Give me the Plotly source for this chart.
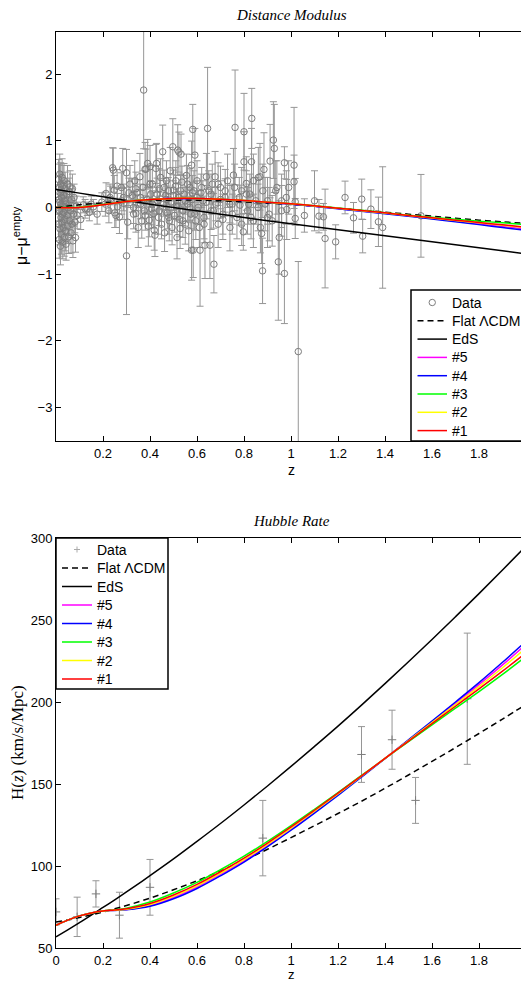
import plotly.graph_objects as go

# ---------------- Data: distance modulus residuals ----------------
z_lowz = [0.011,0.012,0.013,0.014,0.015,0.015,0.016,0.017,0.017,0.018,0.019,0.020,0.021,0.021,0.022,0.023,0.024,0.025,0.026,0.027,
          0.028,0.029,0.030,0.031,0.032,0.033,0.034,0.035,0.036,0.038,0.039,0.040,0.042,0.043,0.045,0.047,0.049,0.050,0.052,0.054,
          0.056,0.058,0.060,0.062,0.064,0.066,0.068,0.070,0.072,0.075,0.077,0.080,0.083,0.086,0.090]
mu_lowz = [0.42,-0.25,0.12,-0.48,0.30,-0.05,0.50,-0.32,0.08,0.22,-0.58,0.35,-0.15,0.05,0.27,-0.40,0.15,-0.22,0.45,-0.10,
           0.02,-0.52,0.33,-0.30,0.18,-0.08,0.40,-0.45,0.10,-0.18,0.28,-0.35,0.05,-0.55,0.20,-0.12,0.35,-0.28,0.00,-0.44,
           0.24,-0.20,0.31,-0.05,-0.38,0.12,-0.25,0.28,-0.50,-0.10,0.15,-0.22,-0.45,0.02,-0.12]
err_lowz = [0.30,0.25,0.22,0.28,0.35,0.20,0.30,0.24,0.18,0.26,0.28,0.32,0.20,0.15,0.25,0.30,0.22,0.18,0.28,0.20,
            0.16,0.25,0.30,0.22,0.20,0.18,0.26,0.28,0.15,0.22,0.25,0.30,0.18,0.24,0.20,0.22,0.28,0.26,0.15,0.25,
            0.20,0.22,0.24,0.18,0.30,0.16,0.20,0.22,0.25,0.18,0.20,0.16,0.22,0.15,0.20]

z_near = [0.105,0.116,0.124,0.133,0.142,0.150,0.159,0.175,0.195,0.213,
          0.225,0.232,0.241,0.244,0.248,0.255,0.262,0.27,0.278,0.284,0.287,0.29,0.30,0.30,0.305,0.315]
mu_near = [-0.18,0.04,-0.02,-0.02,-0.07,0.05,0.01,-0.10,0.08,0.21,
           -0.05,0.12,0.595,0.56,0.26,-0.12,0.01,-0.14,0.30,0.585,0.15,0.06,-0.725,0.52,-0.22,0.35]
err_near = [0.15,0.12,0.14,0.10,0.13,0.12,0.11,0.15,0.14,0.16,
            0.18,0.20,0.30,0.33,0.22,0.18,0.20,0.25,0.22,0.30,0.20,0.24,0.88,0.35,0.25,0.28]

z_mid = [0.325,0.33,0.335,0.34,0.345,0.35,0.357,0.36,0.365,0.37,0.373,0.376,0.379,0.383,0.386,0.39,0.393,0.397,0.40,0.403,
         0.407,0.41,0.414,0.418,0.421,0.425,0.428,0.432,0.436,0.44,0.445,0.449,0.454,0.458,0.462,0.466,0.47,0.474,0.478,0.482,
         0.486,0.49,0.494,0.497,0.50,0.504,0.508,0.512,0.515,0.518,0.521,0.523,0.526,0.528,0.532,0.536,0.54,0.545,0.55,0.555,
         0.56,0.565,0.57,0.574,0.577,0.577,0.58,0.582,0.584,0.587,0.591,0.595,0.60,0.605,0.61,0.613,0.617]
mu_mid = [0.18,-0.10,0.40,-0.09,0.22,-0.30,0.46,0.05,-0.20,0.30,1.76,-0.05,0.575,0.575,0.12,0.66,-0.28,-0.19,0.61,0.20,
          -0.02,0.35,-0.09,-0.34,-0.415,0.585,0.66,0.10,-0.15,0.28,0.45,-0.25,0.835,0.05,-0.38,0.18,0.40,-0.08,0.25,-0.20,
          0.55,0.08,-0.30,0.91,0.26,-0.12,0.32,0.02,-0.45,0.86,0.15,0.83,-0.18,-0.315,0.80,0.38,-0.05,0.20,-0.25,0.48,
          0.05,-0.35,0.30,-0.10,0.635,-0.64,0.12,1.17,-0.64,0.25,0.785,-0.20,0.40,0.0,-0.30,-0.64,0.22]
err_mid = [0.25,0.22,0.30,0.28,0.20,0.30,0.35,0.22,0.26,0.25,0.88,0.20,0.40,0.30,0.22,0.36,0.30,0.25,0.32,0.20,
           0.24,0.28,0.22,0.30,0.32,0.36,0.30,0.20,0.25,0.30,0.28,0.22,0.40,0.18,0.28,0.22,0.30,0.24,0.20,0.30,
           0.35,0.22,0.26,0.42,0.30,0.25,0.28,0.20,0.32,0.38,0.22,0.30,0.26,0.30,0.30,0.24,0.22,0.28,0.30,0.32,
           0.25,0.30,0.28,0.22,0.36,0.45,0.25,0.375,0.41,0.30,0.40,0.28,0.30,0.25,0.30,0.84,0.28]

# extra points of the dense band at intermediate redshift
z_band = [0.21,0.23,0.25,0.26,0.28,0.31,0.33,0.34,0.36,0.38,0.40,0.41,0.43,0.44,0.46,0.47,0.48,0.50,0.51,0.52,
          0.53,0.54,0.55,0.56,0.57,0.58,0.59,0.60,0.62,0.63,0.64,0.66,0.67,0.69,0.70,0.71,0.72,0.74,0.75,0.76,
          0.78,0.79,0.81,0.82,0.83,0.84,0.86,0.87,0.88,0.90,0.92,0.94,0.96,0.98]
mu_band = [0.05,0.15,-0.08,0.32,0.10,0.22,0.00,0.28,0.15,-0.12,0.35,0.05,0.20,-0.05,0.30,0.12,-0.15,0.18,0.40,0.02,
           0.25,-0.20,0.10,0.35,0.00,0.22,-0.10,0.15,0.30,-0.25,0.08,0.20,-0.05,0.35,0.12,-0.18,0.25,0.05,-0.10,0.30,
           0.15,-0.25,0.20,0.05,-0.15,0.40,0.00,-0.30,0.25,0.10,-0.20,0.30,-0.05,0.15]
err_band = [0.18,0.20,0.22,0.25,0.20,0.22,0.24,0.25,0.20,0.22,0.28,0.20,0.24,0.22,0.26,0.20,0.25,0.22,0.30,0.22,
            0.24,0.25,0.20,0.28,0.22,0.26,0.24,0.25,0.30,0.28,0.25,0.30,0.26,0.32,0.28,0.30,0.32,0.28,0.30,0.35,
            0.30,0.32,0.35,0.30,0.32,0.40,0.35,0.38,0.40,0.35,0.38,0.40,0.38,0.40]

z_far = [0.625,0.63,0.634,0.64,0.645,0.65,0.655,0.66,0.665,0.672,0.677,0.68,0.69,0.70,0.71,0.72,0.73,0.74,0.75,0.755,
         0.762,0.77,0.783,0.79,0.797,0.80,0.80,0.81,0.815,0.825,0.832,0.833,0.84,0.85,0.861,0.868,0.875,0.879,0.885,0.89,
         0.90,0.907,0.911,0.925,0.929,0.935,0.946,0.95,0.96,0.972,0.972,0.982,0.99,1.013,1.013,1.018,1.018]
mu_far = [0.10,-0.15,-0.565,0.46,1.185,0.25,-0.565,-0.05,0.35,-0.85,0.46,0.05,-0.25,0.30,-0.10,0.15,0.40,-0.30,0.05,0.485,
          1.20,-0.15,0.035,0.25,-0.365,1.135,0.685,0.36,-0.05,0.20,0.685,1.335,-0.20,0.10,0.45,0.46,-0.39,-0.95,0.57,0.05,
          -0.15,-0.10,0.695,1.01,0.885,0.25,-0.815,-0.45,0.10,0.67,-0.99,-0.03,0.30,0.635,0.385,0.085,-0.165]
err_far = [0.30,0.32,0.50,0.35,0.915,0.30,0.50,0.28,0.30,0.43,0.38,0.25,0.35,0.32,0.30,0.28,0.40,0.35,0.30,0.40,
           0.86,0.32,0.30,0.35,0.275,0.575,0.45,0.40,0.35,0.30,0.50,0.45,0.40,0.35,0.45,0.50,0.45,0.49,0.55,0.40,
           0.45,0.40,0.55,0.575,0.66,0.45,0.875,0.55,0.40,0.24,0.75,0.45,0.40,0.865,0.40,0.35,0.30]

z_highz = [1.031,1.057,1.10,1.119,1.138,1.145,1.19,1.23,1.266,1.301,1.305,1.34,1.372,1.39,1.553]
mu_highz = [-2.16,-0.12,0.10,-0.13,-0.14,-0.465,-0.515,0.15,-0.155,0.125,-0.43,-0.025,-0.215,-0.30,-0.125]
err_highz = [1.35,0.25,0.45,0.25,0.20,0.74,0.255,0.245,0.23,0.30,0.25,0.29,0.37,0.91,0.62]

# model curves, distance modulus residual
z_mu = [0.0,0.1,0.2,0.3,0.4,0.5,0.6,0.7,0.8,0.9,1.0,1.1,1.2,1.3,1.4,1.5,1.6,1.7,1.8,1.9,2.0]
mu_eds = [0.27,0.215,0.16,0.105,0.05,0.0,-0.05,-0.10,-0.15,-0.20,-0.245,-0.29,-0.335,-0.38,-0.425,-0.47,-0.515,-0.56,-0.605,-0.65,-0.695]
mu_lcdm = [0.0,0.04,0.07,0.09,0.105,0.11,0.11,0.10,0.085,0.065,0.045,0.02,-0.01,-0.04,-0.07,-0.10,-0.13,-0.16,-0.19,-0.215,-0.24]
mu_m1 = [0.0,0.0,0.04,0.09,0.12,0.135,0.135,0.125,0.105,0.08,0.055,0.025,-0.01,-0.045,-0.08,-0.12,-0.155,-0.19,-0.225,-0.26,-0.295]
mu_m2 = [0.0,0.0,0.04,0.09,0.12,0.135,0.135,0.125,0.105,0.08,0.054,0.023,-0.012,-0.048,-0.083,-0.122,-0.158,-0.194,-0.23,-0.267,-0.303]
mu_m3 = [0.0,0.005,0.045,0.09,0.12,0.135,0.135,0.125,0.105,0.08,0.056,0.027,-0.007,-0.042,-0.078,-0.115,-0.145,-0.175,-0.205,-0.23,-0.255]
mu_m4 = [0.0,0.0,0.04,0.09,0.12,0.134,0.134,0.123,0.102,0.076,0.05,0.018,-0.02,-0.057,-0.093,-0.13,-0.172,-0.214,-0.257,-0.30,-0.345]
mu_m5 = [0.0,0.0,0.04,0.09,0.12,0.134,0.134,0.124,0.103,0.078,0.052,0.02,-0.016,-0.052,-0.088,-0.125,-0.165,-0.205,-0.245,-0.285,-0.325]

# ---------------- Data: Hubble rate ----------------
z_hobs = [0.0,0.09,0.17,0.27,0.40,0.88,1.30,1.43,1.53,1.75]
h_obs = [72,69,83,70,87,117,168,177,140,202]
h_err = [8,12,8,14,17,23,17,18,14,40]

z_h = [0,0.05,0.1,0.15,0.2,0.25,0.3,0.4,0.5,0.6,0.7,0.8,0.9,1.0,1.1,1.2,1.3,1.4,1.5,1.6,1.7,1.8,1.9,2.0]
h_eds = [56.8,61.1,65.5,70.0,74.7,79.4,84.2,94.1,104.3,115.0,125.9,137.2,148.8,160.7,172.9,185.3,198.1,211.2,224.5,238.1,252.0,266.1,280.5,295.1]
h_lcdm = [65.8,67.1,68.6,70.2,72.0,73.9,75.9,80.4,85.5,91.0,97.0,103.4,110.2,117.3,124.6,132.0,139.5,147.4,155.5,163.8,172.2,180.8,189.6,198.5]
h_m1 = [63.9,67.0,69.6,71.4,72.6,73.2,74.0,77.1,82.3,88.8,96.5,104.8,114.0,123.8,134.0,144.4,155.0,165.6,176.2,186.8,197.4,208.0,218.8,230.0]
h_m2 = [63.9,67.0,69.6,71.4,72.6,73.0,73.6,76.5,81.5,87.9,95.6,103.9,113.2,123.1,133.4,144.0,154.8,165.6,176.5,187.4,198.4,209.4,220.9,233.0]
h_m3 = [63.9,67.0,69.6,71.4,72.6,73.3,74.3,78.0,83.5,90.0,97.7,106.0,115.0,124.6,134.6,144.8,155.2,165.6,175.9,186.1,196.2,206.3,216.8,227.8]
h_m4 = [63.9,67.0,69.6,71.4,72.6,72.9,73.3,75.4,80.0,86.3,94.0,102.4,111.8,121.8,132.3,143.1,154.2,165.5,176.9,188.4,200.0,211.8,224.2,237.0]
h_m5 = [63.9,67.0,69.6,71.4,72.6,73.0,73.4,75.9,80.8,87.2,94.9,103.2,112.6,122.6,133.0,143.7,154.6,165.6,176.7,187.9,199.2,210.6,222.6,235.2]

model_names = ["#5", "#4", "#3", "#2", "#1"]
model_colors = ["#ff00ff", "#0000ff", "#00ff00", "#ffff00", "#ff0000"]

# ---------------- Figure ----------------
W, H = 521, 982
ML = 56
PW = W - ML

def px(x):
    return (x - ML) / PW

def py(y):
    return 1 - y / H

SANS = "Liberation Sans, Arial, Helvetica, sans-serif"
SERIF = "Liberation Serif, Times New Roman, serif"
GRAY_BAR = "rgb(150,150,150)"
GRAY_MK = "rgb(125,125,125)"

fig = go.Figure()

z_sn = z_lowz + z_near + z_band + z_mid + z_far + z_highz
mu_sn = mu_lowz + mu_near + mu_band + mu_mid + mu_far + mu_highz
err_sn = err_lowz + err_near + err_band + err_mid + err_far + err_highz

fig.add_trace(go.Scatter(
    x=z_sn, y=mu_sn, mode="markers", xaxis="x", yaxis="y", showlegend=False,
    marker=dict(symbol="circle-open", size=6.5, color=GRAY_MK, line=dict(width=1, color=GRAY_MK)),
    error_y=dict(type="data", array=err_sn, visible=True, color=GRAY_BAR, thickness=1, width=3.5),
))
fig.add_trace(go.Scatter(x=z_mu, y=mu_lcdm, mode="lines", xaxis="x", yaxis="y", showlegend=False,
                         line=dict(color="black", width=1.5, dash="6px,4px", shape="spline")))
fig.add_trace(go.Scatter(x=z_mu, y=mu_eds, mode="lines", xaxis="x", yaxis="y", showlegend=False,
                         line=dict(color="black", width=1.5, shape="spline")))
for name, col, ys in zip(model_names, model_colors, [mu_m5, mu_m4, mu_m3, mu_m2, mu_m1]):
    fig.add_trace(go.Scatter(x=z_mu, y=ys, mode="lines", xaxis="x", yaxis="y", showlegend=False, name=name,
                             line=dict(color=col, width=1.5, shape="spline")))

# bottom panel
fig.add_trace(go.Scatter(
    x=z_hobs, y=h_obs, mode="markers", xaxis="x2", yaxis="y2", showlegend=False,
    marker=dict(symbol="cross-thin-open", size=6, color=GRAY_MK, line=dict(width=1, color=GRAY_MK)),
    error_y=dict(type="data", array=h_err, visible=True, color=GRAY_BAR, thickness=1, width=3.5),
))
fig.add_trace(go.Scatter(x=z_h, y=h_lcdm, mode="lines", xaxis="x2", yaxis="y2", showlegend=False,
                         line=dict(color="black", width=1.5, dash="6px,4px", shape="spline")))
fig.add_trace(go.Scatter(x=z_h, y=h_eds, mode="lines", xaxis="x2", yaxis="y2", showlegend=False,
                         line=dict(color="black", width=1.5, shape="spline")))
for name, col, ys in zip(model_names, model_colors, [h_m5, h_m4, h_m3, h_m2, h_m1]):
    fig.add_trace(go.Scatter(x=z_h, y=ys, mode="lines", xaxis="x2", yaxis="y2", showlegend=False, name=name,
                             line=dict(color=col, width=1.5, shape="spline")))

xr = [0, PW / 235.0]
axis_common = dict(showgrid=False, zeroline=False, showline=True, linecolor="black", linewidth=1,
                   ticks="inside", ticklen=5, tickcolor="black", tickwidth=1, automargin=False,
                   tickfont=dict(family=SANS, size=13, color="black"))

fig.update_layout(
    width=W, height=H, autosize=False,
    margin=dict(l=ML, r=0, t=0, b=0, pad=0, autoexpand=False),
    paper_bgcolor="white", plot_bgcolor="white",
    showlegend=False,
    xaxis=dict(domain=[0, 1], range=xr, anchor="y", mirror="ticks",
               tickvals=[0.2, 0.4, 0.6, 0.8, 1.0, 1.2, 1.4, 1.6, 1.8],
               ticktext=["0.2", "0.4", "0.6", "0.8", "1", "1.2", "1.4", "1.6", "1.8"], **axis_common),
    yaxis=dict(domain=[py(441), py(32)], range=[-3.5, 2.63], anchor="x",
               tickvals=[-3, -2, -1, 0, 1, 2], **axis_common),
    xaxis2=dict(domain=[0, 1], range=xr, anchor="y2", mirror="ticks",
                tickvals=[0, 0.2, 0.4, 0.6, 0.8, 1.0, 1.2, 1.4, 1.6, 1.8],
                ticktext=["0", "0.2", "0.4", "0.6", "0.8", "1", "1.2", "1.4", "1.6", "1.8"], **axis_common),
    yaxis2=dict(domain=[py(948), py(538)], range=[50, 300], anchor="x2",
                tickvals=[50, 100, 150, 200, 250, 300], **axis_common),
)

ann = []
shapes = []

def text_at(x, y, text, font, **kw):
    d = dict(x=px(x), y=py(y), xref="paper", yref="paper", text=text, showarrow=False,
             font=font, xanchor="center", yanchor="middle")
    d.update(kw)
    ann.append(d)

# titles and axis labels
text_at(291, 15, "<i>Distance Modulus</i>", dict(family=SERIF, size=15, color="black"))
text_at(291, 521, "<i>Hubble Rate</i>", dict(family=SERIF, size=15, color="black"))
text_at(291, 470, "z", dict(family=SANS, size=14, color="black"))
text_at(291, 974.5, "z", dict(family=SANS, size=13, color="black"))
text_at(20, 236, "μ−μ<sup>empty</sup>", dict(family=SANS, size=16, color="black"), textangle=-90)
text_at(17, 743, "H(<i>z</i>) (km/s/Mpc)", dict(family=SERIF, size=17, color="black"), textangle=-90)

# legends (drawn manually in MATLAB style)
legend_labels = ["Data", "Flat ΛCDM", "EdS", "#5", "#4", "#3", "#2", "#1"]
legend_styles = [None, ("black", "6px,4px"), ("black", "solid")] + [(c, "solid") for c in model_colors]

def draw_legend(x0, y0, x1, y1, row0, drow, lx0, lx1, tx, data_symbol):
    shapes.append(dict(type="rect", xref="paper", yref="paper", x0=px(x0), x1=px(x1), y0=py(y1), y1=py(y0),
                       line=dict(color="black", width=1.5), fillcolor="white", layer="above"))
    for i, (lab, sty) in enumerate(zip(legend_labels, legend_styles)):
        yy = row0 + i * drow
        if sty is None:
            cx = (lx0 + lx1) / 2
            if data_symbol == "circle":
                shapes.append(dict(type="circle", xref="paper", yref="paper",
                                   x0=px(cx - 3.2), x1=px(cx + 3.2), y0=py(yy + 3.2), y1=py(yy - 3.2),
                                   line=dict(color=GRAY_MK, width=1), layer="above"))
            else:
                shapes.append(dict(type="line", xref="paper", yref="paper", x0=px(cx - 3), x1=px(cx + 3),
                                   y0=py(yy), y1=py(yy), line=dict(color="rgb(170,170,170)", width=1), layer="above"))
                shapes.append(dict(type="line", xref="paper", yref="paper", x0=px(cx), x1=px(cx),
                                   y0=py(yy - 3), y1=py(yy + 3), line=dict(color="rgb(170,170,170)", width=1), layer="above"))
        else:
            col, dash = sty
            shapes.append(dict(type="line", xref="paper", yref="paper", x0=px(lx0), x1=px(lx1),
                               y0=py(yy), y1=py(yy), line=dict(color=col, width=1.5, dash=dash), layer="above"))
        text_at(tx, yy, lab, dict(family=SANS, size=14, color="black"), xanchor="left")

draw_legend(411, 290, 540, 441, 302.5, 18.3, 417.5, 447, 450, "circle")
draw_legend(56, 538, 168, 689, 549.5, 18.5, 62, 92, 94.5, "plus")

fig.update_layout(annotations=ann, shapes=shapes)
fig.write_html("out.html")
